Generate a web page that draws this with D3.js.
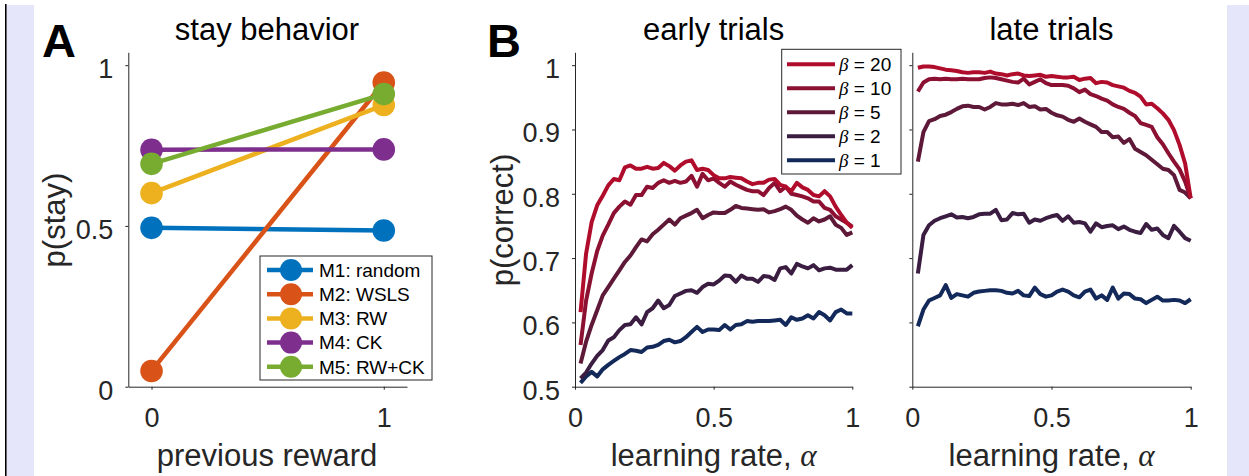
<!DOCTYPE html>
<html>
<head>
<meta charset="utf-8">
<script src="https://cdn.jsdelivr.net/npm/d3@7"></script>
<style>
    body { margin: 0; background: #ffffff; }
    svg { display: block; }
</style>
</head>
<body>
<div id="chart"></div>
<script>
// ---- panel A data: stay probability vs previous reward ----
const prevReward = [0, 1];
const modelNames = ["M1: random", "M2: WSLS", "M3: RW", "M4: CK", "M5: RW+CK"];
const stayM1 = [0.494, 0.486];
const stayM2 = [0.049, 0.946];
const stayM3 = [0.602, 0.876];
const stayM4 = [0.737, 0.738];
const stayM5 = [0.693, 0.910];
const modelColors = ["#0072BD", "#D95319", "#EDB120", "#7E2F8E", "#77AC30"];
const stayTicksX = [0, 1];
const stayTicksY = [0, 0.5, 1];

// ---- panel B data: p(correct) vs learning rate ----
const alphaValues = [0.02, 0.04, 0.06, 0.08, 0.10, 0.12, 0.14, 0.16, 0.18, 0.20,
    0.22, 0.24, 0.26, 0.28, 0.30, 0.32, 0.34, 0.36, 0.38, 0.40,
    0.42, 0.44, 0.46, 0.48, 0.50, 0.52, 0.54, 0.56, 0.58, 0.60,
    0.62, 0.64, 0.66, 0.68, 0.70, 0.72, 0.74, 0.76, 0.78, 0.80,
    0.82, 0.84, 0.86, 0.88, 0.90, 0.92, 0.94, 0.96, 0.98, 1.00];
const betaValues = [20, 10, 5, 2, 1];
const betaColors = ["#B00C2C", "#8C1032", "#5E1838", "#3B1D42", "#13295A"];

const earlyB20 = [0.616, 0.707, 0.756, 0.782, 0.797, 0.813, 0.823, 0.821, 0.841, 0.844,
    0.839, 0.839, 0.842, 0.839, 0.840, 0.848, 0.843, 0.836, 0.844, 0.850,
    0.852, 0.837, 0.839, 0.837, 0.829, 0.824, 0.824, 0.826, 0.825, 0.824,
    0.819, 0.815, 0.817, 0.817, 0.822, 0.823, 0.814, 0.811, 0.804, 0.817,
    0.810, 0.806, 0.798, 0.796, 0.804, 0.796, 0.780, 0.767, 0.755, 0.747];
const earlyB10 = [0.565, 0.634, 0.676, 0.711, 0.735, 0.752, 0.770, 0.780, 0.788, 0.783,
    0.798, 0.798, 0.811, 0.809, 0.817, 0.821, 0.817, 0.820, 0.817, 0.819,
    0.828, 0.811, 0.831, 0.821, 0.824, 0.817, 0.811, 0.819, 0.814, 0.810,
    0.806, 0.804, 0.804, 0.798, 0.809, 0.817, 0.804, 0.811, 0.800, 0.798,
    0.796, 0.793, 0.788, 0.788, 0.778, 0.775, 0.765, 0.760, 0.755, 0.749];
const earlyB5 = [0.536, 0.570, 0.596, 0.619, 0.642, 0.655, 0.668, 0.681, 0.694, 0.704,
    0.717, 0.729, 0.726, 0.737, 0.744, 0.752, 0.760, 0.752, 0.762, 0.766,
    0.770, 0.775, 0.762, 0.767, 0.771, 0.770, 0.770, 0.775, 0.781, 0.778,
    0.777, 0.776, 0.775, 0.776, 0.771, 0.773, 0.776, 0.780, 0.775, 0.766,
    0.760, 0.755, 0.762, 0.757, 0.760, 0.765, 0.752, 0.747, 0.736, 0.740];
const earlyB2 = [0.513, 0.522, 0.536, 0.548, 0.557, 0.572, 0.577, 0.588, 0.596, 0.597,
    0.608, 0.597, 0.616, 0.622, 0.634, 0.622, 0.627, 0.641, 0.645, 0.649,
    0.650, 0.646, 0.655, 0.660, 0.659, 0.665, 0.673, 0.672, 0.663, 0.673,
    0.668, 0.668, 0.663, 0.672, 0.671, 0.666, 0.684, 0.686, 0.676, 0.691,
    0.687, 0.684, 0.689, 0.681, 0.684, 0.685, 0.682, 0.682, 0.682, 0.689];
const earlyB1 = [0.506, 0.516, 0.523, 0.516, 0.527, 0.534, 0.540, 0.546, 0.551, 0.557,
    0.556, 0.554, 0.561, 0.562, 0.565, 0.571, 0.573, 0.569, 0.571, 0.577,
    0.585, 0.593, 0.585, 0.589, 0.589, 0.588, 0.596, 0.589, 0.596, 0.597,
    0.602, 0.601, 0.602, 0.602, 0.602, 0.603, 0.604, 0.596, 0.608, 0.604,
    0.606, 0.611, 0.606, 0.616, 0.611, 0.603, 0.616, 0.620, 0.614, 0.614];

const lateB20 = [0.996, 0.998, 0.998, 0.997, 0.995, 0.993, 0.992, 0.991, 0.989, 0.988,
    0.989, 0.989, 0.988, 0.990, 0.987, 0.986, 0.984, 0.986, 0.987, 0.984,
    0.983, 0.984, 0.985, 0.982, 0.983, 0.982, 0.981, 0.981, 0.982, 0.977,
    0.979, 0.980, 0.972, 0.974, 0.973, 0.969, 0.967, 0.965, 0.960, 0.957,
    0.951, 0.939, 0.940, 0.933, 0.925, 0.915, 0.899, 0.876, 0.847, 0.793];
const lateB10 = [0.959, 0.973, 0.978, 0.979, 0.978, 0.979, 0.978, 0.978, 0.979, 0.978,
    0.978, 0.978, 0.980, 0.981, 0.980, 0.978, 0.976, 0.974, 0.973, 0.979,
    0.970, 0.974, 0.978, 0.972, 0.969, 0.969, 0.969, 0.968, 0.964, 0.958,
    0.962, 0.955, 0.952, 0.948, 0.945, 0.939, 0.935, 0.932, 0.926, 0.921,
    0.910, 0.907, 0.904, 0.888, 0.877, 0.863, 0.850, 0.838, 0.819, 0.793];
const lateB5 = [0.850, 0.896, 0.913, 0.916, 0.921, 0.923, 0.927, 0.932, 0.936, 0.937,
    0.935, 0.935, 0.931, 0.935, 0.941, 0.939, 0.939, 0.940, 0.938, 0.941,
    0.935, 0.936, 0.931, 0.932, 0.926, 0.922, 0.920, 0.915, 0.912, 0.917,
    0.912, 0.908, 0.904, 0.896, 0.896, 0.888, 0.889, 0.879, 0.885, 0.870,
    0.865, 0.860, 0.853, 0.846, 0.839, 0.837, 0.829, 0.806, 0.802, 0.793];
const lateB2 = [0.676, 0.736, 0.751, 0.758, 0.762, 0.765, 0.768, 0.763, 0.764, 0.762,
    0.764, 0.768, 0.769, 0.769, 0.775, 0.759, 0.760, 0.770, 0.768, 0.769,
    0.755, 0.760, 0.758, 0.762, 0.765, 0.767, 0.758, 0.765, 0.755, 0.756,
    0.754, 0.741, 0.754, 0.748, 0.750, 0.751, 0.745, 0.749, 0.744, 0.741,
    0.739, 0.753, 0.744, 0.746, 0.736, 0.731, 0.750, 0.741, 0.731, 0.727];
const lateB1 = [0.594, 0.620, 0.634, 0.638, 0.642, 0.658, 0.638, 0.644, 0.642, 0.640,
    0.646, 0.648, 0.649, 0.650, 0.650, 0.649, 0.646, 0.645, 0.649, 0.642,
    0.641, 0.654, 0.644, 0.640, 0.642, 0.648, 0.651, 0.648, 0.642, 0.639,
    0.648, 0.651, 0.637, 0.642, 0.635, 0.654, 0.637, 0.645, 0.644, 0.637,
    0.636, 0.630, 0.635, 0.640, 0.634, 0.634, 0.635, 0.634, 0.630, 0.636];

const correctTicksX = [0, 0.5, 1];
const correctTicksY = [0.5, 0.6, 0.7, 0.8, 0.9, 1];

// ---- drawing ----
const W = 1249, H = 476;
const ink = "#262626";
const sans = "'Liberation Sans', Arial, sans-serif";
const serif = "'Liberation Serif', 'DejaVu Serif', serif";

const svg = d3.select("#chart").append("svg")
    .attr("width", W)
    .attr("height", H);

// page frame: lavender margins and a black rule on the left
svg.append("rect").attr("x", 0).attr("y", 0).attr("width", W).attr("height", H).attr("fill", "#ffffff");
svg.append("rect").attr("x", 7).attr("y", 5).attr("width", 27).attr("height", H - 5).attr("fill", "#E6E6FA");
svg.append("rect").attr("x", 1227).attr("y", 5).attr("width", W - 1227).attr("height", H - 5).attr("fill", "#E6E6FA");
svg.append("line").attr("x1", 5.8).attr("x2", 5.8).attr("y1", 4).attr("y2", H)
    .attr("stroke", "#000").attr("stroke-width", 1.6);

function drawAxes(x, y, xTicks, yTicks, fmt, yLabels) {
    let g = svg.append("g");
    let yBottom = y.range()[0];
    let xLeft = x.range()[0];

    let xa = g.append("g")
        .attr("transform", `translate(0,${yBottom})`)
        .call(d3.axisBottom(x).tickValues(xTicks).tickSize(3).tickSizeOuter(0).tickFormat(fmt));
    xa.selectAll("text").attr("y", 40.5).attr("dy", "0");

    let ya = g.append("g")
        .attr("transform", `translate(${xLeft},0)`)
        .call(d3.axisLeft(y).tickValues(yTicks).tickSize(3).tickSizeOuter(0).tickPadding(12)
            .tickFormat(yLabels ? fmt : () => ""));
    ya.selectAll("text").attr("dy", "0.46em");

    g.selectAll(".domain").attr("stroke", ink).attr("stroke-width", 1);
    g.selectAll(".tick line").attr("stroke", ink).attr("stroke-width", 1);
    g.selectAll("text")
        .attr("fill", ink)
        .style("font-family", sans)
        .style("font-size", "27px");
    return g;
}

function numFmt(d) {
    return d === 0 || d === 1 ? String(d) : d3.format(".1f")(d);
}

function addText(txt, x, y, size, opts) {
    opts = opts || {};
    return svg.append("text")
        .attr("x", x)
        .attr("y", y)
        .attr("text-anchor", opts.anchor || "middle")
        .attr("transform", opts.rotate ? `rotate(-90,${x},${y})` : null)
        .attr("fill", opts.fill || ink)
        .style("font-family", sans)
        .style("font-size", size + "px")
        .style("font-weight", opts.bold ? "bold" : "normal")
        .text(txt);
}

// ===== panel A =====
let xA = d3.scaleLinear().domain([-0.1, 1.1]).range([128.3, 407]);
let yA = d3.scaleLinear().domain([0, 1.04]).range([386.7, 52.3]);
drawAxes(xA, yA, stayTicksX, stayTicksY, numFmt, true);

let stayData = [stayM1, stayM2, stayM3, stayM4, stayM5];
let stayLine = d3.line()
    .x((d, i) => xA(prevReward[i]))
    .y(d => yA(d));

stayData.forEach((vals, k) => {
    svg.append("path")
        .attr("d", stayLine(vals))
        .attr("fill", "none")
        .attr("stroke", modelColors[k])
        .attr("stroke-width", 4.5);
    svg.selectAll(".dotA" + k)
        .data(vals)
        .enter()
        .append("circle")
        .attr("class", "dotA" + k)
        .attr("cx", (d, i) => xA(prevReward[i]))
        .attr("cy", d => yA(d))
        .attr("r", 11.3)
        .attr("fill", modelColors[k]);
});

// legend A
let legA = svg.append("g");
legA.append("rect")
    .attr("x", 260).attr("y", 256).attr("width", 172).attr("height", 124)
    .attr("fill", "#fff").attr("stroke", ink).attr("stroke-width", 1);
modelNames.forEach((name, k) => {
    let ly = 270 + k * 24.2;
    legA.append("line")
        .attr("x1", 267).attr("x2", 313).attr("y1", ly).attr("y2", ly)
        .attr("stroke", modelColors[k]).attr("stroke-width", 4.5);
    legA.append("circle")
        .attr("cx", 291).attr("cy", ly).attr("r", 11)
        .attr("fill", modelColors[k]);
    legA.append("text")
        .attr("x", 319).attr("y", ly).attr("dy", "0.36em")
        .attr("fill", "#000")
        .style("font-family", sans).style("font-size", "19px")
        .text(name);
});

addText("A", 42, 57, 47, {anchor: "start", bold: true, fill: "#000"});
addText("stay behavior", 267, 40, 31, {fill: "#000"});
addText("previous reward", 267, 466, 31);
addText("p(stay)", 65, 220, 31, {rotate: true});

// ===== panel B =====
let yB = d3.scaleLinear().domain([0.5, 1.02]).range([386.7, 52.3]);
let xEarly = d3.scaleLinear().domain([0, 1]).range([575, 852.3]);
let xLate = d3.scaleLinear().domain([0, 1]).range([912.3, 1190.7]);
drawAxes(xEarly, yB, correctTicksX, correctTicksY, numFmt, true);
drawAxes(xLate, yB, correctTicksX, correctTicksY, numFmt, false);

let earlyData = [earlyB20, earlyB10, earlyB5, earlyB2, earlyB1];
let lateData = [lateB20, lateB10, lateB5, lateB2, lateB1];

function drawCurves(x, series) {
    let line = d3.line()
        .x((d, i) => x(alphaValues[i]))
        .y(d => yB(d));
    // beta = 1 underneath, beta = 20 on top
    for (let k = series.length - 1; k >= 0; k--) {
        svg.append("path")
            .attr("d", line(series[k]))
            .attr("fill", "none")
            .attr("stroke", betaColors[k])
            .attr("stroke-width", 4)
            .attr("stroke-linejoin", "round");
    }
}
drawCurves(xEarly, earlyData);
drawCurves(xLate, lateData);

// legend B
let legB = svg.append("g");
legB.append("rect")
    .attr("x", 781.7).attr("y", 49.3).attr("width", 119.3).attr("height", 124.7)
    .attr("fill", "#fff").attr("stroke", ink).attr("stroke-width", 1);
betaValues.forEach((b, k) => {
    let ly = 64.3 + k * 24;
    legB.append("line")
        .attr("x1", 787).attr("x2", 835).attr("y1", ly).attr("y2", ly)
        .attr("stroke", betaColors[k]).attr("stroke-width", 4);
    let t = legB.append("text")
        .attr("x", 839).attr("y", ly).attr("dy", "0.36em")
        .attr("fill", "#000")
        .style("font-family", sans).style("font-size", "19px");
    t.append("tspan").style("font-family", serif).style("font-style", "italic").text("\u03B2");
    t.append("tspan").text(" = " + b);
});

addText("B", 487, 57, 47, {anchor: "start", bold: true, fill: "#000"});
addText("early trials", 713.6, 40, 31, {fill: "#000"});
addText("late trials", 1051.5, 40, 31, {fill: "#000"});
addText("p(correct)", 513, 220, 31, {rotate: true});

[xEarly, xLate].forEach(x => {
    let cx = (x.range()[0] + x.range()[1]) / 2;
    let t = addText("", cx, 466, 31);
    t.append("tspan").text("learning rate, ");
    t.append("tspan").style("font-family", serif).style("font-style", "italic").text("\u03B1");
});
</script>
</body>
</html>
